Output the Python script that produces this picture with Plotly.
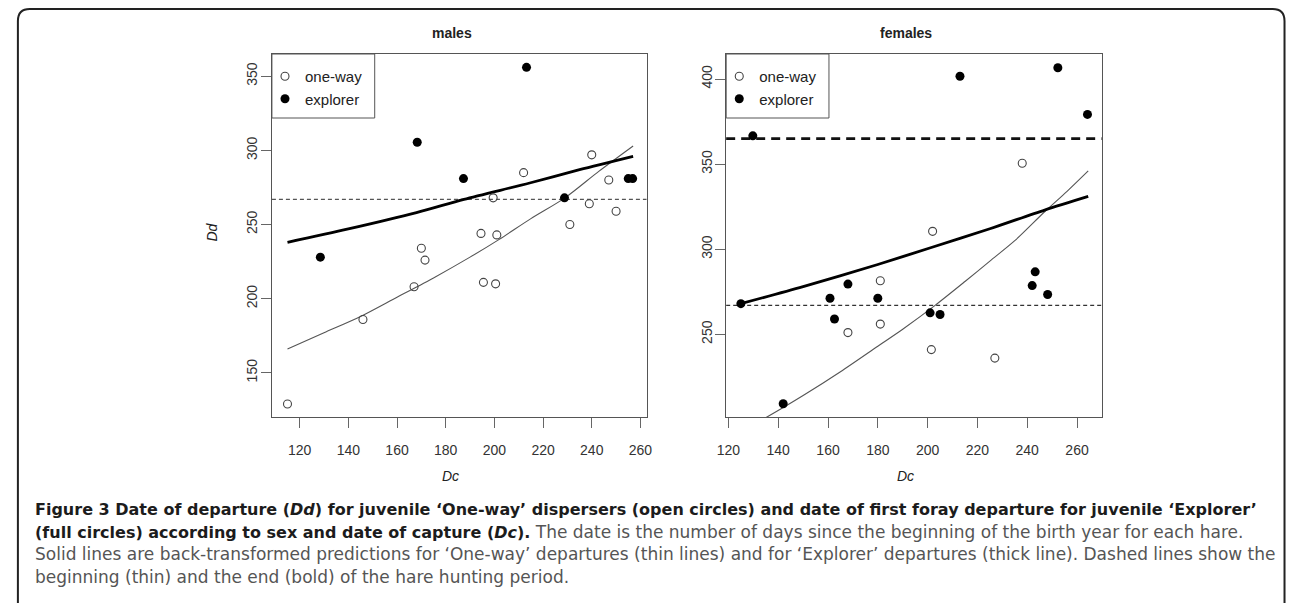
import plotly.graph_objects as go

W, H = 1292, 603

# ---------------- data ----------------
male_oneway_dc = [115, 146, 167, 170, 171.5, 194.5, 195.5, 199.5, 200.5, 201, 212, 231, 239, 240, 247, 250]
male_oneway_dd = [129, 186, 208, 234, 226, 244, 211, 268, 210, 243, 285, 250, 264, 297, 280, 259]
male_explorer_dc = [128.5, 168.3, 187.3, 213.2, 228.8, 255, 256.8]
male_explorer_dd = [228, 305.5, 281, 356, 268, 281, 281]

female_oneway_dc = [168, 181, 181, 201.5, 202, 227, 238]
female_oneway_dd = [251, 256, 281.5, 241, 310.5, 236, 350.5]
female_explorer_dc = [125, 129.8, 142, 160.8, 162.6, 168, 180, 201, 205, 213, 242, 243.2, 248.2, 252.3, 264.2]
female_explorer_dd = [268, 366.6, 209.2, 271.2, 259, 279.5, 271.2, 262.6, 261.6, 401.6, 278.6, 286.7, 273.4, 406.6, 379.2]

# back-transformed predictions
male_oneway_fit_dc = [115, 130, 145, 160, 175, 190, 202, 215, 229, 243, 257]
male_oneway_fit_dd = [166, 177, 188, 201, 214, 228, 240, 254, 268, 286, 303]
male_explorer_fit_dc = [115, 140, 168, 187.5, 214.5, 235, 257]
male_explorer_fit_dd = [238, 247, 258, 267, 278, 287, 296]
female_oneway_fit_dc = [126, 135, 150, 165, 180, 190, 203, 215, 225, 235, 247, 256, 264.5]
female_oneway_fit_dd = [194, 201, 214, 228, 243, 253, 267, 281, 293, 305, 322, 334, 346]
female_explorer_fit_dc = [125, 150, 180, 201.5, 225, 247, 264.5]
female_explorer_fit_dd = [268, 278, 291, 301, 312, 323, 331]

hunt_start = 267
hunt_end = 365

x_ticks = [120, 140, 160, 180, 200, 220, 240, 260]
male_y_ticks = [150, 200, 250, 300, 350]
female_y_ticks = [250, 300, 350, 400]

panel_titles = ["males", "females"]
legend_labels = ["one-way", "explorer"]
x_title = "Dc"
y_title = "Dd"

BOLD = "<span style='color:#1c1c1c;font-size:16px'><b>{}</b></span>"
caption_lines = [
    BOLD.format("Figure 3 Date of departure (<i>Dd</i>) for juvenile \u2018One-way\u2019 dispersers (open circles) and date of first foray departure for juvenile \u2018Explorer\u2019"),
    BOLD.format("(full circles) according to sex and date of capture (<i>Dc</i>).") + " The date is the number of days since the beginning of the birth year for each hare.",
    "Solid lines are back-transformed predictions for \u2018One-way\u2019 departures (thin lines) and for \u2018Explorer\u2019 departures (thick line). Dashed lines show the",
    "beginning (thin) and the end (bold) of the hare hunting period.",
]

# ---------------- layout helpers ----------------
def px(x):
    return x / W

def py(y):
    return 1 - y / H

BOX_TOP, BOX_BOT = 54, 417
L_X0, L_X1 = 266, 645
R_X0, R_X1 = 725.6, 1105.5

fig = go.Figure()

OPEN = dict(symbol="circle-open", size=8, color="#444", line=dict(width=1.1, color="#444"))
FULL = dict(symbol="circle", size=9, color="#000")

def add_panel(xa, ya, leg, o_dc, o_dd, e_dc, e_dd, of_dc, of_dd, ef_dc, ef_dd):
    fig.add_trace(go.Scatter(x=of_dc, y=of_dd, mode="lines",
                             line=dict(color="#555", width=1.1, shape="spline", smoothing=0.8),
                             xaxis=xa, yaxis=ya, showlegend=False, hoverinfo="skip"))
    fig.add_trace(go.Scatter(x=ef_dc, y=ef_dd, mode="lines",
                             line=dict(color="#000", width=2.8, shape="spline", smoothing=0.8),
                             xaxis=xa, yaxis=ya, showlegend=False, hoverinfo="skip"))
    fig.add_trace(go.Scatter(x=o_dc, y=o_dd, mode="markers", marker=OPEN, name=legend_labels[0],
                             xaxis=xa, yaxis=ya, legend=leg, legendgroup=leg + "a"))
    fig.add_trace(go.Scatter(x=e_dc, y=e_dd, mode="markers", marker=FULL, name=legend_labels[1],
                             xaxis=xa, yaxis=ya, legend=leg, legendgroup=leg + "b"))

add_panel("x", "y", "legend", male_oneway_dc, male_oneway_dd, male_explorer_dc, male_explorer_dd,
          male_oneway_fit_dc, male_oneway_fit_dd, male_explorer_fit_dc, male_explorer_fit_dd)
add_panel("x2", "y2", "legend2", female_oneway_dc, female_oneway_dd, female_explorer_dc, female_explorer_dd,
          female_oneway_fit_dc, female_oneway_fit_dd, female_explorer_fit_dc, female_explorer_fit_dd)

TICKFONT = dict(family="Liberation Sans, Arial, sans-serif", size=14, color="#333")
axis_common = dict(showline=True, mirror=True, linecolor="#555", linewidth=1, showgrid=False,
                   zeroline=False, ticks="outside", ticklen=10, tickwidth=1, tickcolor="#666",
                   tickfont=TICKFONT)

LEGFONT = dict(family="Liberation Sans, Arial, sans-serif", size=15, color="#222")
fig.update_layout(
    width=W, height=H, margin=dict(l=0, r=0, t=0, b=0),
    paper_bgcolor="white", plot_bgcolor="white",
    xaxis=dict(domain=[px(L_X0), px(L_X1)], range=[108.6, 262.5], tickvals=x_ticks,
               ticklabelstandoff=10, anchor="y", **axis_common),
    yaxis=dict(domain=[py(BOX_BOT), py(BOX_TOP)], range=[120.2, 365.0], tickvals=male_y_ticks,
               tickangle=-90, ticklabelstandoff=-2, anchor="x", **axis_common),
    xaxis2=dict(domain=[px(R_X0), px(R_X1)], range=[119.1, 269.9], tickvals=x_ticks,
                ticklabelstandoff=10, anchor="y2", **axis_common),
    yaxis2=dict(domain=[py(BOX_BOT), py(BOX_TOP)], range=[201.4, 414.7], tickvals=female_y_ticks,
                tickangle=-90, ticklabelstandoff=-2, anchor="x2", **axis_common),
    legend=dict(x=px(L_X0 - 7), y=py(BOX_TOP + 6), xanchor="left", yanchor="top",
                bgcolor="rgba(0,0,0,0)", borderwidth=0, tracegroupgap=0, itemwidth=30, font=LEGFONT),
    legend2=dict(x=px(R_X0 - 7), y=py(BOX_TOP + 6), xanchor="left", yanchor="top",
                 bgcolor="rgba(0,0,0,0)", borderwidth=0, tracegroupgap=0, itemwidth=30, font=LEGFONT),
    showlegend=True,
)

shapes = []
# hunting period lines
shapes.append(dict(type="line", xref="x domain", yref="y", x0=0, x1=1, y0=hunt_start, y1=hunt_start,
                   line=dict(color="#555", width=1.2, dash="4px,3px"), layer="below"))
shapes.append(dict(type="line", xref="x2 domain", yref="y2", x0=0, x1=1, y0=hunt_start, y1=hunt_start,
                   line=dict(color="#333", width=1.2, dash="4px,3px"), layer="below"))
shapes.append(dict(type="line", xref="x2 domain", yref="y2", x0=0, x1=1, y0=hunt_end, y1=hunt_end,
                   line=dict(color="#111", width=2.6, dash="9px,6px"), layer="below"))
# legend boxes
for x0 in (L_X0, R_X0):
    shapes.append(dict(type="rect", xref="paper", yref="paper", x0=px(x0), x1=px(x0 + 104),
                       y0=py(118), y1=py(BOX_TOP), line=dict(color="#555", width=1)))
# rounded outer frame
fx0, fx1, fy0, fy1, r = 9, 1290.5, 9, 640, 12
path = (f"M {px(fx0)},{py(fy1)} L {px(fx0)},{py(fy0 + r)} Q {px(fx0)},{py(fy0)} {px(fx0 + r)},{py(fy0)} "
        f"L {px(fx1 - r)},{py(fy0)} Q {px(fx1)},{py(fy0)} {px(fx1)},{py(fy0 + r)} L {px(fx1)},{py(fy1)}")
shapes.append(dict(type="path", xref="paper", yref="paper", path=path, line=dict(color="#222", width=2)))
fig.update_layout(shapes=shapes)

ann = []
LBL = dict(family="Liberation Sans, Arial, sans-serif", size=14, color="#222")
for cx, t in zip((448, 908), panel_titles):
    ann.append(dict(text=f"<b>{t}</b>", x=px(cx), y=py(33), xref="paper", yref="paper",
                    showarrow=False, xanchor="center", yanchor="middle", font=LBL))
for cx in (447, 907):
    ann.append(dict(text=f"<i>{x_title}</i>", x=px(cx), y=py(476), xref="paper", yref="paper",
                    showarrow=False, xanchor="center", yanchor="middle", font=LBL))
ann.append(dict(text=f"<i>{y_title}</i>", x=px(205), y=py(232), xref="paper", yref="paper",
                showarrow=False, xanchor="center", yanchor="middle", textangle=-90, font=LBL))
for i, line in enumerate(caption_lines):
    ann.append(dict(text=line, x=px(24), y=py(509 + i * 22.6), xref="paper", yref="paper",
                    showarrow=False, xanchor="left", yanchor="middle", align="left",
                    font=dict(family="DejaVu Sans, sans-serif", size=17, color="#555")))
fig.update_layout(annotations=ann)

fig.write_html("out.html", config={"displayModeBar": False},
               post_script="document.body.style.margin='0px';")
